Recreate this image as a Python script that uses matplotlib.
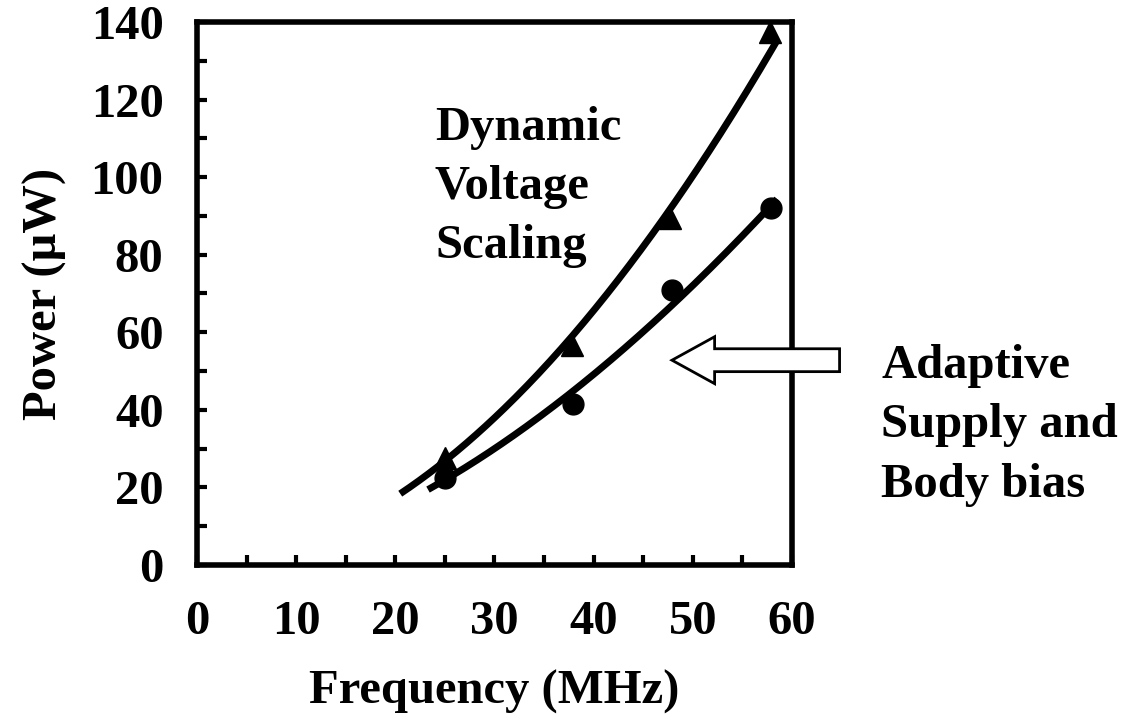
import numpy as np
import matplotlib.pyplot as plt
from matplotlib.patches import FancyArrow

freq_dvs = [25.0, 37.8, 47.7, 57.8]
power_dvs = [27.5, 56.7, 89.4, 137.4]
freq_asb = [25.0, 37.9, 47.9, 57.9]
power_asb = [22.5, 41.5, 71.0, 92.0]

x_ticks = [0, 10, 20, 30, 40, 50, 60]
y_ticks = [0, 20, 40, 60, 80, 100, 120, 140]

# span of the two trend lines
dvs_span = (20.5, 58.5)
asb_span = (23.3, 58.5)


def power_fit(x, y, span):
    # y = a * x^b, fitted in log-log space
    b, ln_a = np.polyfit(np.log(x), np.log(y), 1)
    xs = np.linspace(span[0], span[1], 200)
    return xs, np.exp(ln_a) * xs ** b


plt.rcParams["font.family"] = ["Liberation Serif", "DejaVu Serif"]
plt.rcParams["font.weight"] = "bold"

fig = plt.figure(figsize=(11.28, 7.14), dpi=100)
ax = fig.add_axes([0.1746, 0.2087, 0.5275, 0.7605])

xs, ys = power_fit(freq_dvs, power_dvs, dvs_span)
ax.plot(xs, ys, color="black", linewidth=5, solid_capstyle="butt")
xs, ys = power_fit(freq_asb, power_asb, asb_span)
ax.plot(xs, ys, color="black", linewidth=5, solid_capstyle="butt")

ax.plot(freq_dvs, power_dvs, linestyle="none", marker="^", markersize=16, color="black")
ax.plot(freq_asb, power_asb, linestyle="none", marker="o", markersize=15, color="black")

ax.set_xlim(0, 60)
ax.set_ylim(0, 140)
ax.set_xticks(x_ticks)
ax.set_yticks(y_ticks)
ax.set_xticks(np.arange(0, 61, 5), minor=True)
ax.set_yticks(np.arange(0, 141, 10), minor=True)
ax.tick_params(which="both", direction="in", width=3, length=7, labelsize=35)
ax.tick_params(axis="x", pad=25)
ax.tick_params(axis="y", pad=24)
for lbl in ax.get_xticklabels() + ax.get_yticklabels():
    lbl.set_fontweight("bold")
for sp in ax.spines.values():
    sp.set_linewidth(4)

ax.set_xlabel("Frequency (MHz)", fontsize=35, fontweight="bold", labelpad=19)
ax.set_ylabel("Power (\u03bcW)", fontsize=35, fontweight="bold", labelpad=17)

ax.text(24.0, 97.5, "Dynamic\nVoltage\nScaling", fontsize=35, fontweight="bold",
        ha="left", va="center", linespacing=1.45)
ax.text(69.0, 36.0, "Adaptive\nSupply and\nBody bias", fontsize=35, fontweight="bold",
        ha="left", va="center", linespacing=1.45, clip_on=False)

arrow = FancyArrow(64.8, 52.8, -16.9, 0, width=5.9, head_width=12.1, head_length=4.3,
                   length_includes_head=True, facecolor="white", edgecolor="black",
                   linewidth=2, clip_on=False, zorder=5)
ax.add_patch(arrow)

fig.savefig("out.png", dpi=100)
